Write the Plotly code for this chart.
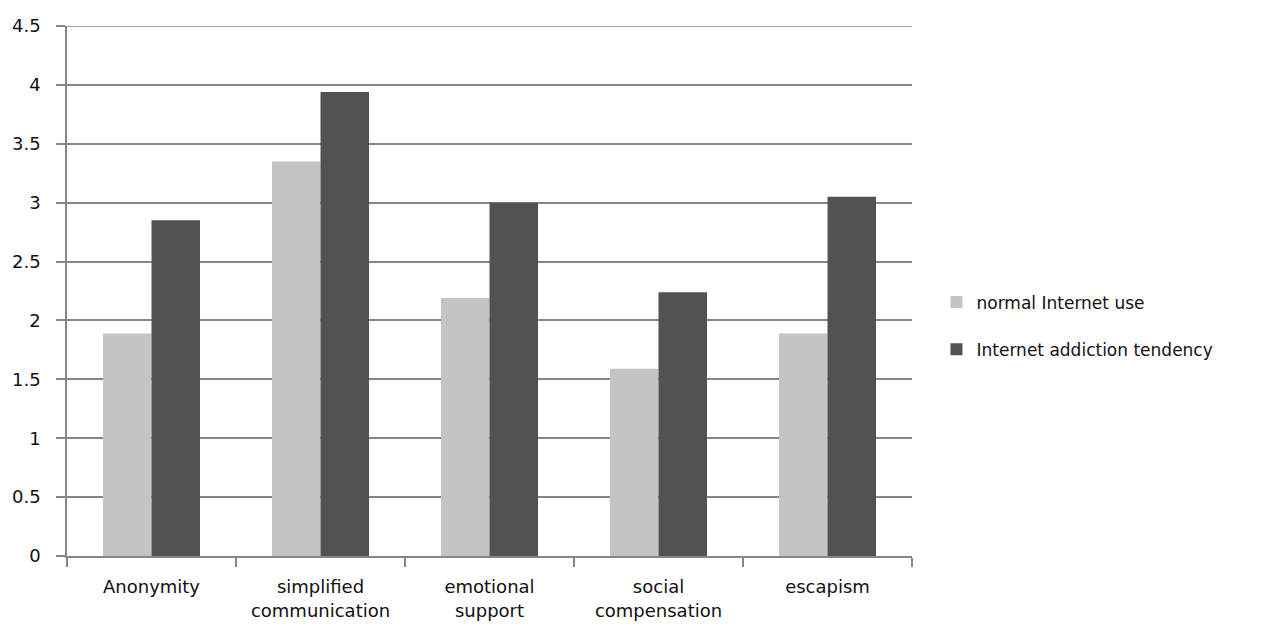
import plotly.graph_objects as go

categories = ["Anonymity", "simplified<br>communication", "emotional<br>support", "social<br>compensation", "escapism"]
normal_use = [1.89, 3.35, 2.19, 1.59, 1.89]
addiction_tendency = [2.85, 3.94, 3.0, 2.24, 3.05]
series_names = ["normal Internet use", "Internet addiction tendency"]
y_ticks = [0, 0.5, 1, 1.5, 2, 2.5, 3, 3.5, 4, 4.5]

FONT = "DejaVu Sans"
TEXT = "#111111"
GRID = "#868686"

fig = go.Figure()
fig.add_trace(go.Bar(x=categories, y=normal_use, name=series_names[0],
                     marker=dict(color="#c4c4c4", line=dict(width=0)),
                     legendgroup="a"))
fig.add_trace(go.Bar(x=categories, y=addiction_tendency, name=series_names[1],
                     marker=dict(color="#525252", line=dict(width=0)),
                     legendgroup="b"))

# top gridline at the last tick (plotly skips gridlines lying on the plot edge)
fig.add_shape(type="line", xref="paper", x0=0, x1=1, yref="y",
              y0=y_ticks[-1], y1=y_ticks[-1], line=dict(color=GRID, width=1.5),
              layer="below")

fig.update_layout(
    width=1267, height=632,
    margin=dict(l=67, r=355, t=26, b=76),
    paper_bgcolor="white", plot_bgcolor="white",
    barmode="group", bargap=0.426, bargroupgap=0,
    font=dict(family=FONT, size=18, color=TEXT),
    showlegend=True,
    legend=dict(x=1.029, xanchor="left", y=0.434, yanchor="middle",
                font=dict(family=FONT, size=17, color=TEXT),
                tracegroupgap=22, bgcolor="rgba(0,0,0,0)"),
    xaxis=dict(type="category", showline=True, linecolor=GRID, linewidth=1.5,
               ticks="outside", tickson="boundaries", ticklen=9, tickcolor=GRID,
               tickwidth=1.5, showgrid=False, ticklabelstandoff=14,
               tickfont=dict(family=FONT, size=18, color=TEXT)),
    yaxis=dict(range=[0, y_ticks[-1]], tickvals=y_ticks, showline=True, linecolor=GRID,
               linewidth=1.5, ticks="outside", ticklen=9, tickcolor=GRID,
               tickwidth=1.5, showgrid=True, gridcolor=GRID, gridwidth=1.5,
               zeroline=False, ticklabelstandoff=12,
               tickfont=dict(family=FONT, size=18, color=TEXT)),
)

fig.write_html("out.html")
